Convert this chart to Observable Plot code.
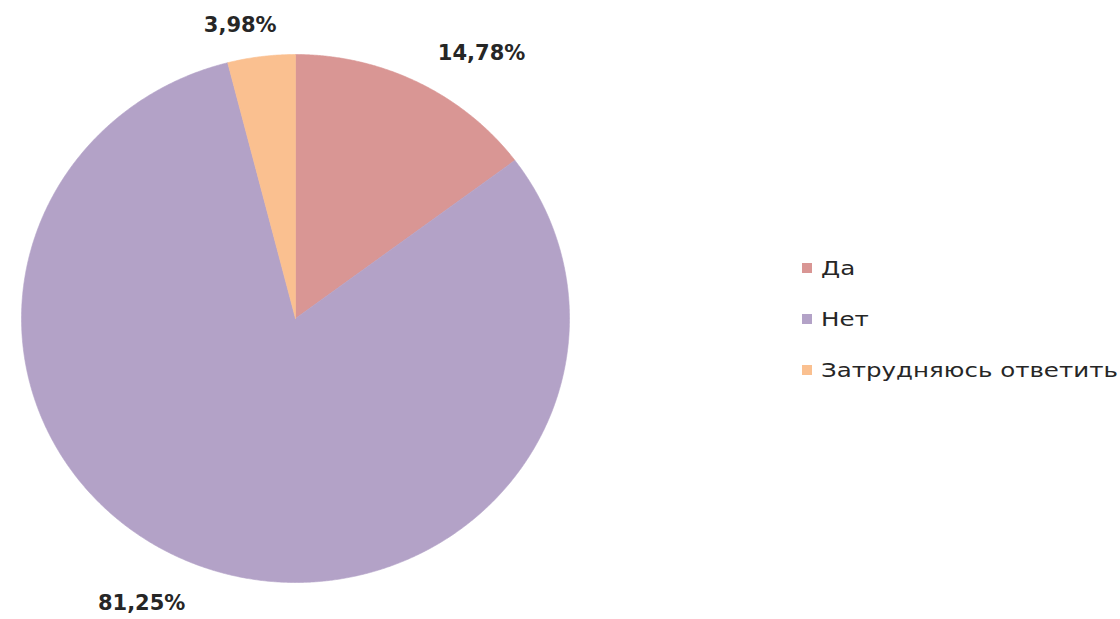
<!DOCTYPE html>
<html><head><meta charset="utf-8">
<script src="https://cdn.jsdelivr.net/npm/d3@7"></script>
<script src="https://cdn.jsdelivr.net/npm/@observablehq/plot@0.6"></script>
<style>
body{margin:0;background:#fff;}
#wrap{position:relative;width:1120px;height:619px;overflow:hidden;}
#legend{position:absolute;left:802px;top:255px;font-family:"DejaVu Sans",sans-serif;font-size:19px;color:#262626;}
.item{display:flex;align-items:center;height:51px;white-space:nowrap;}
.sw{width:10px;height:10px;margin-right:9px;flex:none;}
.lt{display:inline-block;transform:scaleX(1.29);transform-origin:left center;}
</style></head><body>
<div id="wrap"><div id="chart"></div><div id="legend"></div></div>
<script>
const categories = ["Да", "Нет", "Затрудняюсь ответить"];
const values = [14.78, 81.25, 3.98];
const labels = ["14,78%", "81,25%", "3,98%"];
const colors = ["#d99694", "#b3a2c7", "#fac090"];

// style: label offsets in pixels from a point just outside each slice
const labelOffsets = [[45, 6], [-49, -2], [-16, 8]];

const arcs = d3.pie().sort(null).value(d => d)(values);
const slices = arcs.map((a, i) => {
  const pts = [{x: 0, y: 0}];
  const n = Math.max(2, Math.ceil((a.endAngle - a.startAngle) / 0.005));
  for (let k = 0; k <= n; k++) {
    const t = a.startAngle + (a.endAngle - a.startAngle) * k / n;
    pts.push({x: Math.sin(t), y: Math.cos(t)});
  }
  pts.push({x: 0, y: 0});
  return pts;
});

const marks = [];
slices.forEach((pts, i) => {
  marks.push(Plot.line(pts, {x: "x", y: "y", fill: colors[i], stroke: colors[i], strokeWidth: 0.6, curve: "linear"}));
});
arcs.forEach((a, i) => {
  const m = (a.startAngle + a.endAngle) / 2;
  marks.push(Plot.text([{x: 1.15 * Math.sin(m), y: 1.15 * Math.cos(m), t: labels[i]}], {
    x: "x", y: "y", text: "t", dx: labelOffsets[i][0], dy: labelOffsets[i][1],
    fontSize: 21, fontWeight: "bold", fill: "#262626", fontFamily: "DejaVu Sans"
  }));
});

const chart = Plot.plot({
  width: 1120, height: 619, margin: 0,
  x: {domain: [-1, 1], range: [21, 569], axis: null},
  y: {domain: [-1, 1], range: [582, 54], axis: null},
  style: {background: "#fff", fontFamily: "DejaVu Sans"},
  marks
});
document.getElementById("chart").appendChild(chart);

const leg = document.getElementById("legend");
categories.forEach((c, i) => {
  const it = document.createElement("div");
  it.className = "item";
  it.innerHTML = `<span class="sw" style="background:${colors[i]}"></span><span class="lt">${c}</span>`;
  leg.appendChild(it);
});
leg.style.top = (267 - 25) + "px";
</script>
</body></html>
